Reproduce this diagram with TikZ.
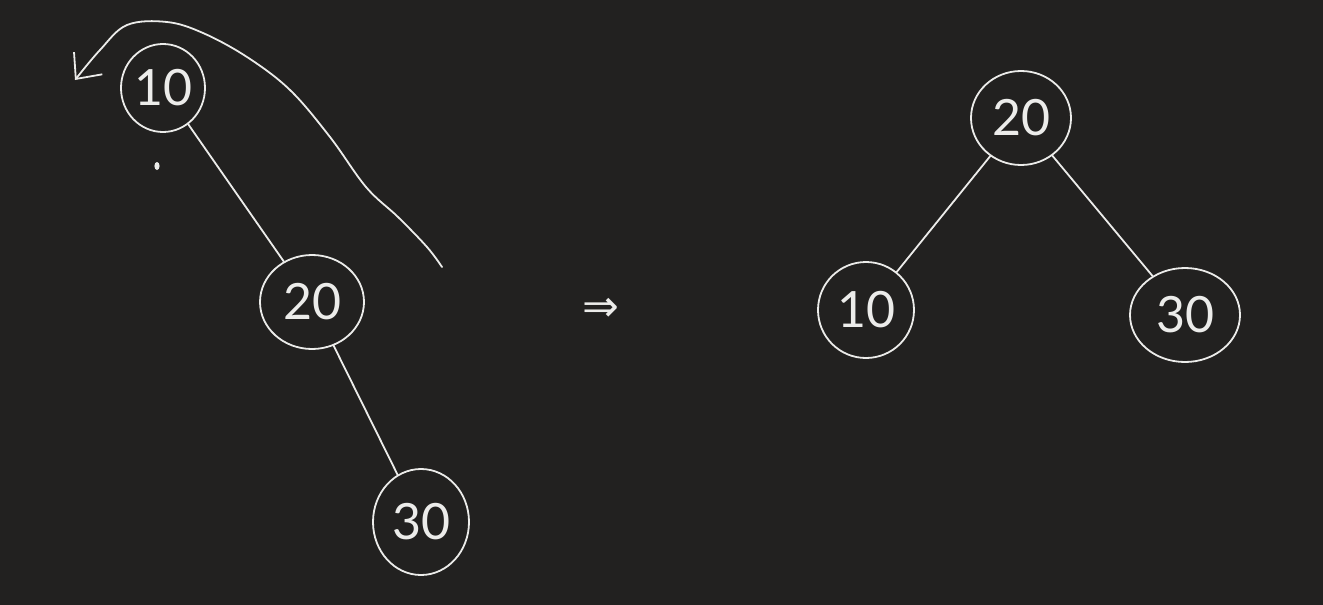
\documentclass[tikz,border=0pt]{standalone}
\usepackage{fontspec}
\setmainfont{Lato}
\newfontfamily\symfont{DejaVu Sans}
\usepackage{tikz}
\usetikzlibrary{arrows.meta,positioning,shapes.geometric}
\definecolor{board}{HTML}{222120}
\definecolor{chalk}{HTML}{ECECEA}

\begin{document}
\begin{tikzpicture}[
  x=1pt, y=-1pt,
  nd/.style={draw=chalk, ellipse, line width=1.8pt, text=chalk, inner sep=0pt, font=\fontsize{50}{50}\selectfont},
  ln/.style={draw=chalk, line width=1.8pt, line cap=round},
  arr/.style={ln, -{Straight Barb[length=20pt, width=36pt, line width=1.8pt]}}
]
\fill[board] (0,0) rectangle (1323,605);
\useasboundingbox (0,0) rectangle (1323,605);
% before the rotation
\node[nd, minimum width=84pt, minimum height=88pt] (a10) at (163,88) {10};
\node[nd, minimum width=104pt, minimum height=94pt] (a20) at (312,302) {20};
\node[nd, minimum width=96pt, minimum height=106pt] (a30) at (421,522) {30};
\draw[ln] (a10) -- (a20);
\draw[ln] (a20) -- (a30);
\fill[chalk] (157,166) ellipse (2.6pt and 4pt);
% the rotation arrow
\coordinate (rs) at (442,267);
\coordinate (re) at (75,80);
\draw[arr] plot[smooth, tension=0.6] coordinates {(rs) (427,247) (398,217) (366,187) (330,137) (290,90) (247,57) (203,33) (167,22) (127,25) (100,50) (re)};
\node[text=chalk, font=\symfont\fontsize{44}{44}\selectfont] (imp) at (601,310) {⇒};
% after the rotation
\node[nd, minimum width=100pt, minimum height=94pt] (b20) at (1021,118) {20};
\node[nd, minimum width=96pt, minimum height=96pt] (b10) at (866,310) {10};
\node[nd, minimum width=110pt, minimum height=94pt] (b30) at (1185,315) {30};
\draw[ln] (b20) -- (b10);
\draw[ln] (b20) -- (b30);
\end{tikzpicture}
\end{document}
